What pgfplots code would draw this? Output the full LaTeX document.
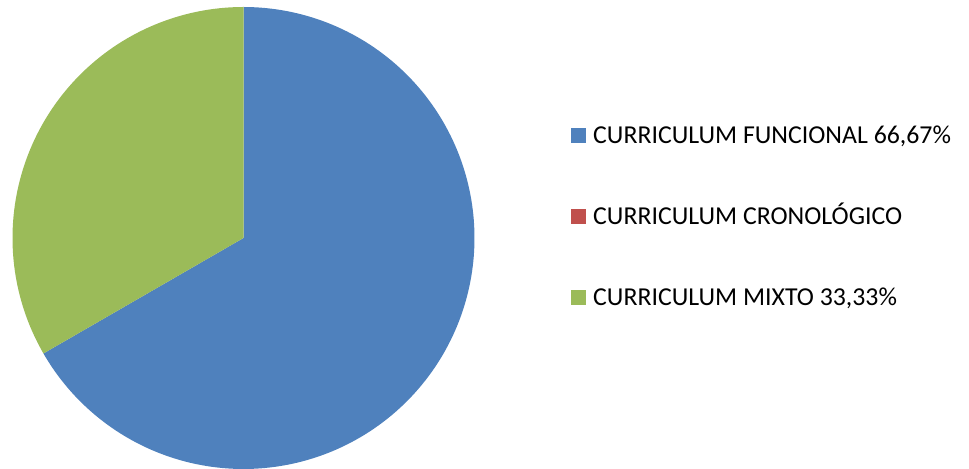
\documentclass[border=0pt]{standalone}
\usepackage{pgfplots}
\pgfplotsset{compat=1.18}
\usepackage{fontspec}
\setmainfont{Carlito}
\definecolor{cblue}{HTML}{4F81BD}
\definecolor{cred}{HTML}{C0504D}
\definecolor{cgreen}{HTML}{9BBB59}
% slice values (percent)
\def\vFunc{66.67}
\def\vCron{0}
\def\vMixto{33.33}
\def\cx{243.5}
\def\cy{231}
\def\rr{231}
\begin{document}
\begin{tikzpicture}
\begin{axis}[
  scale only axis, width=969bp, height=469bp,
  xmin=0, xmax=969, ymin=0, ymax=469,
  axis lines=none, clip=false,
  legend image code/.code={\fill[#1] (0bp,-7.5bp) rectangle (15bp,7.5bp);},
  legend style={at={(axis cs:571,341)}, anchor=north west, draw=none, fill=none,
    inner sep=0pt, column sep=7bp, row sep=66bp,
    nodes={inner sep=0pt, text height=15bp, text depth=0bp, font=\fontsize{25.8bp}{30bp}\selectfont},
    cells={anchor=west}},
]
% CURRICULUM FUNCIONAL: from 90 deg clockwise
\addplot[fill=cblue, draw=none, domain=90:{90-3.6*\vFunc}, samples=181, variable=\t]
  ({\cx+\rr*cos(\t)}, {\cy+\rr*sin(\t)}) -- (axis cs:\cx,\cy) -- cycle;
\addlegendentry{CURRICULUM FUNCIONAL 66,67\%}
\addlegendimage{fill=cred, draw=none}
\addlegendentry{CURRICULUM CRONOLÓGICO}
\addplot[fill=cgreen, draw=none, domain={90-3.6*(\vFunc+\vCron)}:{90-3.6*(\vFunc+\vCron+\vMixto)}, samples=121, variable=\t]
  ({\cx+\rr*cos(\t)}, {\cy+\rr*sin(\t)}) -- (axis cs:\cx,\cy) -- cycle;
\addlegendentry{CURRICULUM MIXTO 33,33\%}
\path (rel axis cs:0,0) rectangle (rel axis cs:1,1);
\end{axis}
\end{tikzpicture}
\end{document}
